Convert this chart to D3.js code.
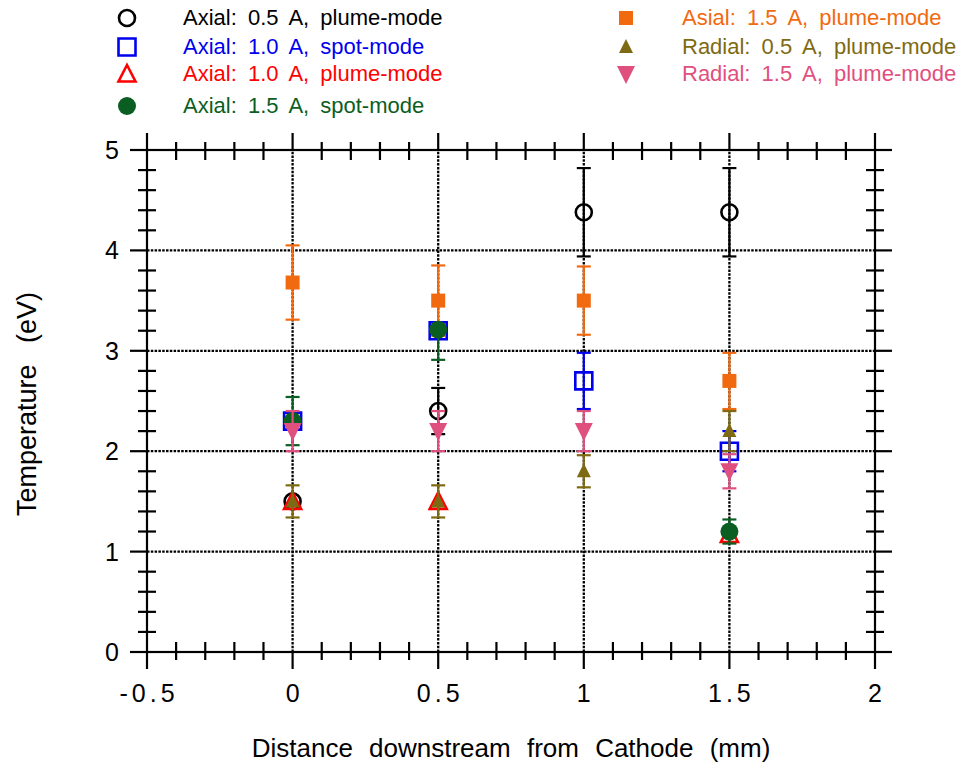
<!DOCTYPE html>
<html><head><meta charset="utf-8">
<script src="https://cdn.jsdelivr.net/npm/d3@7"></script>
<style>
body{margin:0;background:#fff;}
svg{display:block;font-family:"Liberation Sans",Arial,sans-serif;}
</style></head>
<body><svg id="chart" width="959" height="766"></svg>
<script>
// ---- data ----
const xPositions = [0, 0.5, 1, 1.5];
const xTicks = [-0.5, 0, 0.5, 1, 1.5, 2];
const yTicks = [0, 1, 2, 3, 4, 5];

const seriesNames = [
  "Axial: 0.5 A, plume-mode",
  "Axial: 1.0 A, spot-mode",
  "Axial: 1.0 A, plume-mode",
  "Axial: 1.5 A, spot-mode",
  "Asial: 1.5 A, plume-mode",
  "Radial: 0.5 A, plume-mode",
  "Radial: 1.5 A, plume-mode"
];
const axial05Plume = [1.5, 2.4, 4.38, 4.38];
const axial05PlumeErr = [0, 0.23, 0.44, 0.44];
const axial10Spot = [2.3, 3.2, 2.7, 2.0];
const axial10SpotErr = [0, 0, 0.28, 0.2];
const axial10Plume = [1.5, 1.5, null, 1.17];
const axial10PlumeErr = [0, 0, null, 0];
const axial15Spot = [2.3, 3.21, null, 1.2];
const axial15SpotErrLow = [0.24, 0.3, null, 0.12];
const axial15SpotErrHigh = [0.24, 0, null, 0.12];
const asial15Plume = [3.68, 3.5, 3.5, 2.7];
const asial15PlumeErr = [0.37, 0.35, 0.34, 0.28];
const radial05Plume = [1.5, 1.5, 1.8, 2.2];
const radial05PlumeErr = [0.16, 0.16, 0.16, 0.2];
const radial15Plume = [2.2, 2.2, 2.2, 1.8];
const radial15PlumeErr = [0.2, 0.2, 0.2, 0.17];

// ---- styles ----
const styles = [
  {color:"#000000", shape:"circle", fill:false},
  {color:"#0000ee", shape:"square", fill:false},
  {color:"#ff0000", shape:"triUp", fill:false},
  {color:"#0b5e22", shape:"circleBig", fill:true},
  {color:"#f26a10", shape:"squareSmall", fill:true},
  {color:"#7e6a12", shape:"triUpSmall", fill:true},
  {color:"#e0507f", shape:"triDown", fill:true}
];
const seriesVals = [axial05Plume, axial10Spot, axial10Plume, axial15Spot, asial15Plume, radial05Plume, radial15Plume];
const seriesErrLow = [axial05PlumeErr, axial10SpotErr, axial10PlumeErr, axial15SpotErrLow, asial15PlumeErr, radial05PlumeErr, radial15PlumeErr];
const seriesErrHigh = [axial05PlumeErr, axial10SpotErr, axial10PlumeErr, axial15SpotErrHigh, asial15PlumeErr, radial05PlumeErr, radial15PlumeErr];
const drawOrder = [0, 1, 2, 4, 3, 5, 6];

const svg = d3.select("#chart");
const x = d3.scaleLinear().domain([-0.5, 2]).range([147, 875]);
const y = d3.scaleLinear().domain([0, 5]).range([652, 150]);

function shapePath(shape){
  switch(shape){
    case "circle": return "M8,0A8,8 0 1,1 -8,0A8,8 0 1,1 8,0Z";
    case "circleBig": return "M9,0A9,9 0 1,1 -9,0A9,9 0 1,1 9,0Z";
    case "square": return "M-8.5,-8.5H8.5V8.5H-8.5Z";
    case "squareSmall": return "M-7,-7H7V7H-7Z";
    case "triUp": return "M0,-9L8.5,7.5L-8.5,7.5Z";
    case "triUpSmall": return "M0,-8L7,6L-7,6Z";
    case "triDown": return "M-9,-8H9L0,10Z";
  }
}
function drawMarker(g, st){
  g.append("path").attr("d", shapePath(st.shape))
    .attr("fill", st.fill ? st.color : "none")
    .attr("stroke", st.fill ? "none" : st.color)
    .attr("stroke-width", st.fill ? 0 : 2.6);
}

// ---- grid ----
const grid = svg.append("g");
[0, 0.5, 1, 1.5].forEach(v => {
  grid.append("line").attr("x1", x(v)).attr("x2", x(v)).attr("y1", y(0)).attr("y2", y(5))
    .attr("stroke", "#000").attr("stroke-width", 2.3).attr("stroke-dasharray", "2.5,1.3");
});
[1, 2, 3, 4].forEach(v => {
  grid.append("line").attr("x1", x(-0.5)).attr("x2", x(2)).attr("y1", y(v)).attr("y2", y(v))
    .attr("stroke", "#000").attr("stroke-width", 2.3).attr("stroke-dasharray", "2.5,1.3");
});

// ---- frame and ticks ----
const ax = svg.append("g").attr("stroke", "#000").attr("stroke-width", 2.2);
ax.append("rect").attr("x", x(-0.5)).attr("y", y(5)).attr("width", x(2) - x(-0.5)).attr("height", y(0) - y(5))
  .attr("fill", "none");
const xMinor = d3.range(-0.5, 2.0001, 0.1).filter(v => Math.abs(Math.round(v * 2) - v * 2) > 1e-6);
const yMinor = d3.range(0, 5.0001, 0.2).filter(v => Math.abs(Math.round(v) - v) > 1e-6);
xMinor.forEach(v => {
  ax.append("line").attr("x1", x(v)).attr("x2", x(v)).attr("y1", y(0) - 10).attr("y2", y(0) + 8);
  ax.append("line").attr("x1", x(v)).attr("x2", x(v)).attr("y1", y(5) - 8).attr("y2", y(5) + 10);
});
yMinor.forEach(v => {
  ax.append("line").attr("y1", y(v)).attr("y2", y(v)).attr("x1", x(-0.5) - 9).attr("x2", x(-0.5) + 9);
  ax.append("line").attr("y1", y(v)).attr("y2", y(v)).attr("x1", x(2) - 9).attr("x2", x(2) + 9);
});
xTicks.forEach(v => {
  ax.append("line").attr("x1", x(v)).attr("x2", x(v)).attr("y1", y(0)).attr("y2", y(0) + 17);
  ax.append("line").attr("x1", x(v)).attr("x2", x(v)).attr("y1", y(5) - 17).attr("y2", y(5));
});
yTicks.forEach(v => {
  ax.append("line").attr("y1", y(v)).attr("y2", y(v)).attr("x1", x(-0.5) - 17).attr("x2", x(-0.5));
  ax.append("line").attr("y1", y(v)).attr("y2", y(v)).attr("x1", x(2)).attr("x2", x(2) + 17);
});

// tick labels
svg.append("g").selectAll("text").data(xTicks).join("text")
  .attr("x", d => x(d) + 2).attr("y", 702)
  .attr("text-anchor", "middle").attr("font-size", 25).attr("letter-spacing", "4px")
  .text(d => d === -0.5 ? "-0.5" : String(d));
svg.append("g").selectAll("text").data(yTicks).join("text")
  .attr("x", 119).attr("y", d => y(d) + 9)
  .attr("text-anchor", "end").attr("font-size", 25)
  .text(d => String(d));

// axis titles
svg.append("text").attr("x", 511).attr("y", 757).attr("text-anchor", "middle")
  .attr("font-size", 26).attr("word-spacing", "9px").text("Distance downstream from Cathode (mm)");
svg.append("text").attr("transform", "translate(36,404) rotate(-90)").attr("text-anchor", "middle")
  .attr("font-size", 27).attr("word-spacing", "14px").text("Temperature (eV)");

// ---- data marks ----
drawOrder.forEach(si => {
  const st = styles[si];
  const g = svg.append("g");
  seriesVals[si].forEach((v, i) => {
    if (v === null) return;
    const lo = seriesErrLow[si][i], hi = seriesErrHigh[si][i];
    const cx = x(xPositions[i]);
    if (lo > 0 || hi > 0) {
      g.append("line").attr("x1", cx).attr("x2", cx).attr("y1", y(v - lo)).attr("y2", y(v + hi))
        .attr("stroke", st.color).attr("stroke-width", 2.2);
      [[lo, v - lo], [hi, v + hi]].forEach(([e, t]) => {
        if (e <= 0) return;
        g.append("line").attr("x1", cx - 7).attr("x2", cx + 7).attr("y1", y(t)).attr("y2", y(t))
          .attr("stroke", st.color).attr("stroke-width", 2.2);
      });
    }
    const mg = g.append("g").attr("transform", `translate(${cx},${y(v)})`);
    drawMarker(mg, st);
  });
});

// ---- legend ----
const legendPos = [
  {mx:127, tx:183, ty:25}, {mx:127, tx:183, ty:54}, {mx:127, tx:183, ty:81}, {mx:127, tx:183, ty:113},
  {mx:626, tx:682, ty:25}, {mx:626, tx:682, ty:54}, {mx:626, tx:682, ty:81}
];
seriesNames.forEach((name, i) => {
  const p = legendPos[i];
  const mg = svg.append("g").attr("transform", `translate(${p.mx},${p.ty - 7})`);
  drawMarker(mg, styles[i]);
  svg.append("text").attr("x", p.tx).attr("y", p.ty).attr("font-size", 22)
    .attr("word-spacing", "5px").attr("fill", styles[i].color).text(name);
});
</script></body></html>
